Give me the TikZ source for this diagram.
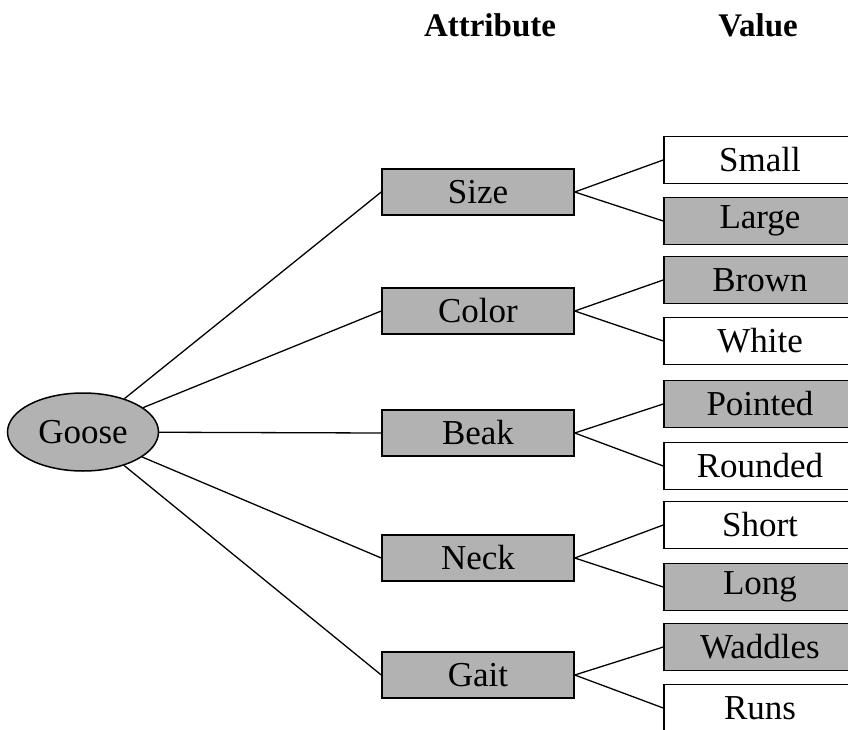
\documentclass[tikz,border=0pt]{standalone}
\usepackage{fontspec}
\setmainfont{Liberation Serif}
\usetikzlibrary{shapes.geometric}
\begin{document}
\begin{tikzpicture}[x=1pt,y=-1pt,
        txt/.style={font=\fontsize{35}{40}\selectfont, inner sep=0pt},
        shaded/.style={fill=black!30},
        attbox/.style={txt, draw, line width=1.5pt, minimum width=192pt, minimum height=46pt},
        valbox/.style={txt, draw, line width=1.5pt, minimum width=192pt, minimum height=47pt},
        head/.style={font=\fontsize{33}{40}\selectfont\bfseries, anchor=base},
        link/.style={line width=1.3pt}]
                \useasboundingbox (0,0) rectangle (848,730);
                \clip (0,0) rectangle (848,730);
                \node[head] (atthead) at (490,37) {Attribute};
                \node[head] (valhead) at (758,37) {Value};
                \node[txt, ellipse, draw, shaded, line width=1.5pt, minimum width=151pt, minimum height=78pt] (goose) at (83,432) {Goose};
                \node[attbox, shaded] (size) at (478,192) {Size};
                \node[attbox, shaded] (color) at (478,311) {Color};
                \node[attbox, shaded] (beak) at (478,433) {Beak};
                \node[attbox, shaded] (neck) at (478,558) {Neck};
                \node[attbox, shaded] (gait) at (478,675) {Gait};
                \node[valbox] (small) at (760,160) {Small};
                \node[valbox, shaded] (large) at (760,221) {Large};
                \node[valbox, shaded] (brown) at (760,280) {Brown};
                \node[valbox] (white) at (760,341) {White};
                \node[valbox, shaded] (pointed) at (760,404) {Pointed};
                \node[valbox] (rounded) at (760,466) {Rounded};
                \node[valbox] (short) at (760,525) {Short};
                \node[valbox, shaded] (long) at (760,587) {Long};
                \node[valbox, shaded] (waddles) at (760,647) {Waddles};
                \node[valbox] (runs) at (760,708) {Runs};
                \draw[link] (goose) -- (size.west);
                \draw[link] (goose) -- (color.west);
                \draw[link] (goose) -- (beak.west);
                \draw[link] (goose) -- (neck.west);
                \draw[link] (goose) -- (gait.west);
                \draw[link] (small.west) -- (size.east) -- (large.west);
                \draw[link] (brown.west) -- (color.east) -- (white.west);
                \draw[link] (pointed.west) -- (beak.east) -- (rounded.west);
                \draw[link] (short.west) -- (neck.east) -- (long.west);
                \draw[link] (waddles.west) -- (gait.east) -- (runs.west);
            \end{tikzpicture}
\end{document}
